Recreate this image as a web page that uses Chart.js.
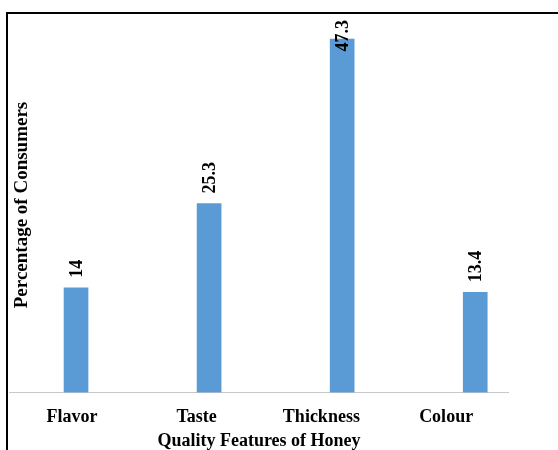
<!DOCTYPE html>
<html>
<head>
<meta charset="utf-8">
<script src="https://cdn.jsdelivr.net/npm/chart.js@4.4.1/dist/chart.umd.min.js"></script>
<style>
  html, body { margin: 0; padding: 0; background: #fff; overflow: hidden; }
  #wrap { position: relative; width: 558px; height: 450px; }
  #frame {
    position: absolute; left: 6px; top: 12px; width: 600px; height: 500px;
    border: 2px solid #000; pointer-events: none;
  }
</style>
</head>
<body>
<div id="wrap">
  <canvas id="honey" width="558" height="450"></canvas>
  <div id="frame"></div>
</div>
<script>
// quality features of honey, % of consumers
const features = ['Flavor', 'Taste', 'Thickness', 'Colour'];
const consumers = [14, 25.3, 47.3, 13.4];
const valueLabels = ['14', '25.3', '47.3', '13.4'];

const serif = '"Liberation Serif", "Times New Roman", serif';

// value labels written vertically above each bar, plus both axis titles
const labelPlugin = {
  id: 'labels',
  afterDatasetsDraw(chart) {
    const ctx = chart.ctx;
    const area = chart.chartArea;
    const bars = chart.getDatasetMeta(0).data;
    ctx.save();
    ctx.fillStyle = '#000';
    ctx.font = 'bold 18px ' + serif;
    ctx.textBaseline = 'middle';
    ctx.textAlign = 'left';
    bars.forEach((bar, i) => {
      const txt = valueLabels[i];
      const w = ctx.measureText(txt).width;
      let y = bar.y - 10;
      if (y - w < area.top + 1) y = area.top + 1 + w;
      ctx.save();
      ctx.translate(bar.x + 1, y);
      ctx.rotate(-Math.PI / 2);
      ctx.fillText(txt, 0, 0);
      ctx.restore();
    });
    // y axis title
    ctx.font = 'bold 19px ' + serif;
    ctx.textAlign = 'center';
    ctx.save();
    ctx.translate(22, 205);
    ctx.rotate(-Math.PI / 2);
    ctx.fillText('Percentage of Consumers', 0, 0);
    ctx.restore();
    // x axis title
    ctx.font = 'bold 18px ' + serif;
    ctx.fillText('Quality Features of Honey', (area.left + area.right) / 2, 441);
    ctx.restore();
  }
};

const honey = new Chart(document.getElementById('honey'), {
  type: 'bar',
  data: {
    labels: features,
    datasets: [{
      label: 'Percentage of Consumers',
      data: consumers.map((v, i) => ({ x: i, y: v })),
      xAxisID: 'xb',
      backgroundColor: '#5b9bd5',
      borderWidth: 0,
      barThickness: 24
    }]
  },
  options: {
    responsive: false,
    animation: false,
    layout: { padding: { left: 9.5, right: 49.5, top: 19, bottom: 8 } },
    plugins: {
      legend: { display: false },
      tooltip: { enabled: false }
    },
    scales: {
      x: {
        type: 'category',
        grid: { display: false, drawTicks: false },
        border: { display: true, color: '#c8c8c8', width: 1 },
        ticks: {
          color: '#000',
          padding: 14,
          font: { family: serif, size: 18, weight: 'bold' }
        }
      },
      xb: {
        type: 'linear',
        axis: 'x',
        display: false,
        offset: false,
        min: -0.5,
        max: 3.25
      },
      y: {
        display: false,
        min: 0,
        max: 50
      }
    }
  },
  plugins: [labelPlugin]
});
</script>
</body>
</html>
